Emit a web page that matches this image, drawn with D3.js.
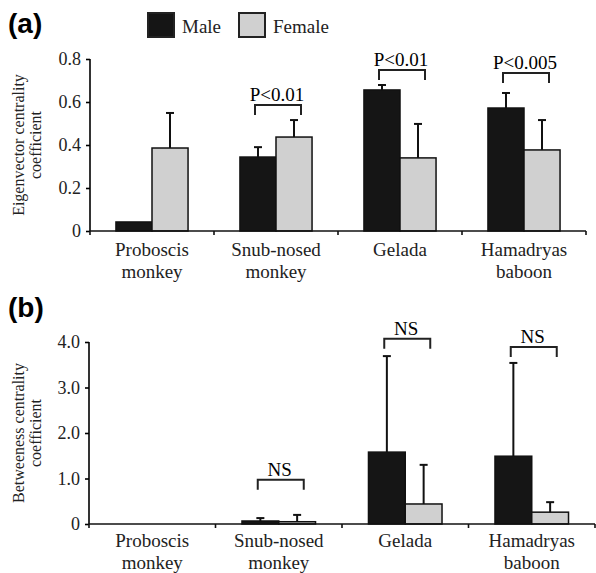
<!DOCTYPE html>
<html>
<head>
<meta charset="utf-8">
<script src="https://cdn.jsdelivr.net/npm/d3@7/dist/d3.min.js"></script>
<style>
  body { margin: 0; background: #fff; }
  svg { display: block; font-family: "Liberation Serif", "Times New Roman", serif; }
</style>
</head>
<body>
<div id="chart-area"></div>
<script>
var species = ["Proboscis monkey", "Snub-nosed monkey", "Gelada", "Hamadryas baboon"];
var sexes = ["Male", "Female"];

// (a) eigenvector centrality: means and SD (upper error bar only)
var eigMale = [0.042, 0.344, 0.656, 0.572];
var eigMaleSD = [0, 0.046, 0.023, 0.07];
var eigFemale = [0.386, 0.437, 0.34, 0.377];
var eigFemaleSD = [0.163, 0.079, 0.158, 0.139];
var eigTicks = [0, 0.2, 0.4, 0.6, 0.8];
var eigSig = ["", "P<0.01", "P<0.01", "P<0.005"];
var eigSigLevel = [null, 0.586, 0.749, 0.735];

// (b) betweeness centrality
var betMale = [0, 0.066, 1.58, 1.49];
var betMaleSD = [0, 0.064, 2.11, 2.05];
var betFemale = [0, 0.05, 0.44, 0.26];
var betFemaleSD = [0, 0.15, 0.86, 0.22];
var betTicks = [0, 1, 2, 3, 4];
var betSig = ["", "NS", "NS", "NS"];
var betSigLevel = [null, 0.97, 4.07, 3.89];

var width = 596, height = 573;
var svg = d3.select("#chart-area").append("svg")
    .attr("width", width)
    .attr("height", height);

var colors = d3.scaleOrdinal().domain(sexes).range(["#151515", "#d0d0d0"]);

function panel(opt) {
    var x0 = d3.scaleBand()
        .domain(species)
        .range([opt.left, opt.right]);
    var x1 = d3.scaleBand()
        .domain(sexes)
        .range([0, x0.bandwidth()])
        .paddingOuter(0.72);
    var y = d3.scaleLinear()
        .domain([0, opt.max])
        .range([opt.bottom, opt.top]);

    var rows = [];
    species.forEach((s, i) => {
        rows.push({sp: s, sex: "Male", v: opt.male[i], sd: opt.maleSD[i]});
        rows.push({sp: s, sex: "Female", v: opt.female[i], sd: opt.femaleSD[i]});
    });

    var g = svg.append("g");

    g.selectAll("rect.bar").data(rows).enter()
        .append("rect")
            .attr("class", "bar")
            .attr("x", d => x0(d.sp) + x1(d.sex))
            .attr("y", d => y(d.v))
            .attr("width", x1.bandwidth())
            .attr("height", d => y(0) - y(d.v))
            .attr("fill", d => colors(d.sex))
            .attr("stroke", "#111")
            .attr("stroke-width", 1.5);

    var errs = rows.filter(d => d.sd > 0);
    var cx = d => x0(d.sp) + x1(d.sex) + x1.bandwidth() / 2;
    g.selectAll("line.err").data(errs).enter()
        .append("line")
            .attr("x1", cx).attr("x2", cx)
            .attr("y1", d => y(d.v))
            .attr("y2", d => y(d.v + d.sd))
            .attr("stroke", "#111").attr("stroke-width", 2);
    g.selectAll("line.cap").data(errs).enter()
        .append("line")
            .attr("x1", d => cx(d) - 4).attr("x2", d => cx(d) + 4)
            .attr("y1", d => y(d.v + d.sd))
            .attr("y2", d => y(d.v + d.sd))
            .attr("stroke", "#111").attr("stroke-width", 2);

    // significance brackets
    var sig = species.map((s, i) => ({sp: s, label: opt.sig[i], lvl: opt.sigLevel[i]}))
        .filter(d => d.lvl != null);
    sig.forEach(d => {
        var c = x0(d.sp) + x0.bandwidth() / 2 + 2;
        var yy = y(d.lvl);
        g.append("path")
            .attr("d", "M" + (c - 23) + "," + (yy + 10) + "V" + yy + "H" + (c + 23) + "V" + (yy + 10))
            .attr("fill", "none")
            .attr("stroke", "#222")
            .attr("stroke-width", 2);
        g.append("text")
            .attr("x", c - 1)
            .attr("y", yy - 4)
            .attr("text-anchor", "middle")
            .attr("font-size", "19px")
            .text(d.label);
    });

    // y axis
    var leftAxis = d3.axisLeft(y)
        .tickValues(opt.ticks)
        .tickSize(4)
        .tickPadding(5)
        .tickFormat(opt.fmt);
    var ya = g.append("g")
        .attr("transform", "translate(" + opt.left + ",0)")
        .call(leftAxis);
    ya.select(".domain").attr("stroke-width", 1.6).attr("d", "M0," + y(0) + "V" + y(opt.max));
    ya.selectAll(".tick line").attr("stroke-width", 1.6);
    ya.selectAll("text")
        .attr("font-family", "Liberation Serif")
        .attr("font-size", "18px")
        .attr("fill", "#222");

    // x axis line and boundary ticks
    var bounds = species.map(s => x0(s)).concat([opt.right]);
    g.append("line")
        .attr("x1", opt.left).attr("x2", opt.right)
        .attr("y1", y(0)).attr("y2", y(0))
        .attr("stroke", "#111").attr("stroke-width", 1.6);
    g.selectAll("line.xt").data(bounds).enter()
        .append("line")
            .attr("x1", d => d).attr("x2", d => d)
            .attr("y1", y(0)).attr("y2", y(0) + 4)
            .attr("stroke", "#111").attr("stroke-width", 1.6);

    // category labels
    species.forEach(s => {
        var parts = s === "Gelada" ? ["Gelada"] :
            s === "Hamadryas baboon" ? ["Hamadryas", "baboon"] :
            s === "Snub-nosed monkey" ? ["Snub-nosed", "monkey"] : ["Proboscis", "monkey"];
        var t = g.append("text")
            .attr("text-anchor", "middle")
            .attr("font-size", "19px")
            .attr("fill", "#222");
        parts.forEach((p, k) => {
            t.append("tspan")
                .attr("x", x0(s) + x0.bandwidth() / 2)
                .attr("y", y(0) + opt.labelDy + k * 22)
                .text(p);
        });
    });

    // y axis title
    var ymid = (y(0) + y(opt.max)) / 2;
    opt.title.forEach((line, k) => {
        g.append("text")
            .attr("transform", "translate(" + (24 + k * 17) + "," + ymid + ") rotate(-90)")
            .attr("text-anchor", "middle")
            .attr("font-size", "16px")
            .attr("fill", "#222")
            .text(line);
    });

    // panel letter
    g.append("text")
        .attr("x", 8)
        .attr("y", opt.letterY)
        .attr("font-family", "Liberation Sans, Arial, sans-serif")
        .attr("font-weight", "bold")
        .attr("font-size", "28px")
        .text(opt.letter);
}

panel({
    left: 90, right: 586, top: 59, bottom: 231, max: 0.8,
    male: eigMale, maleSD: eigMaleSD, female: eigFemale, femaleSD: eigFemaleSD,
    ticks: eigTicks, fmt: d => d === 0 ? "0" : d3.format(".1f")(d),
    sig: eigSig, sigLevel: eigSigLevel,
    labelDy: 25, title: ["Eigenvector centrality", "coefficient"],
    letter: "(a)", letterY: 33
});

panel({
    left: 89, right: 595, top: 342, bottom: 524, max: 4,
    male: betMale, maleSD: betMaleSD, female: betFemale, femaleSD: betFemaleSD,
    ticks: betTicks, fmt: d => d === 0 ? "0" : d3.format(".1f")(d),
    sig: betSig, sigLevel: betSigLevel,
    labelDy: 23, title: ["Betweeness centrality", "coefficient"],
    letter: "(b)", letterY: 317
});

// legend
var legend = svg.append("g");
var legX = [148, 239];
sexes.forEach((s, i) => {
    legend.append("rect")
        .attr("x", legX[i]).attr("y", 13)
        .attr("width", 26).attr("height", 24)
        .attr("fill", colors(s))
        .attr("stroke", "#222")
        .attr("stroke-width", 2);
    legend.append("text")
        .attr("x", legX[i] + 34)
        .attr("y", 33)
        .attr("font-size", "19px")
        .attr("fill", "#222")
        .text(s);
});
</script>
</body>
</html>
